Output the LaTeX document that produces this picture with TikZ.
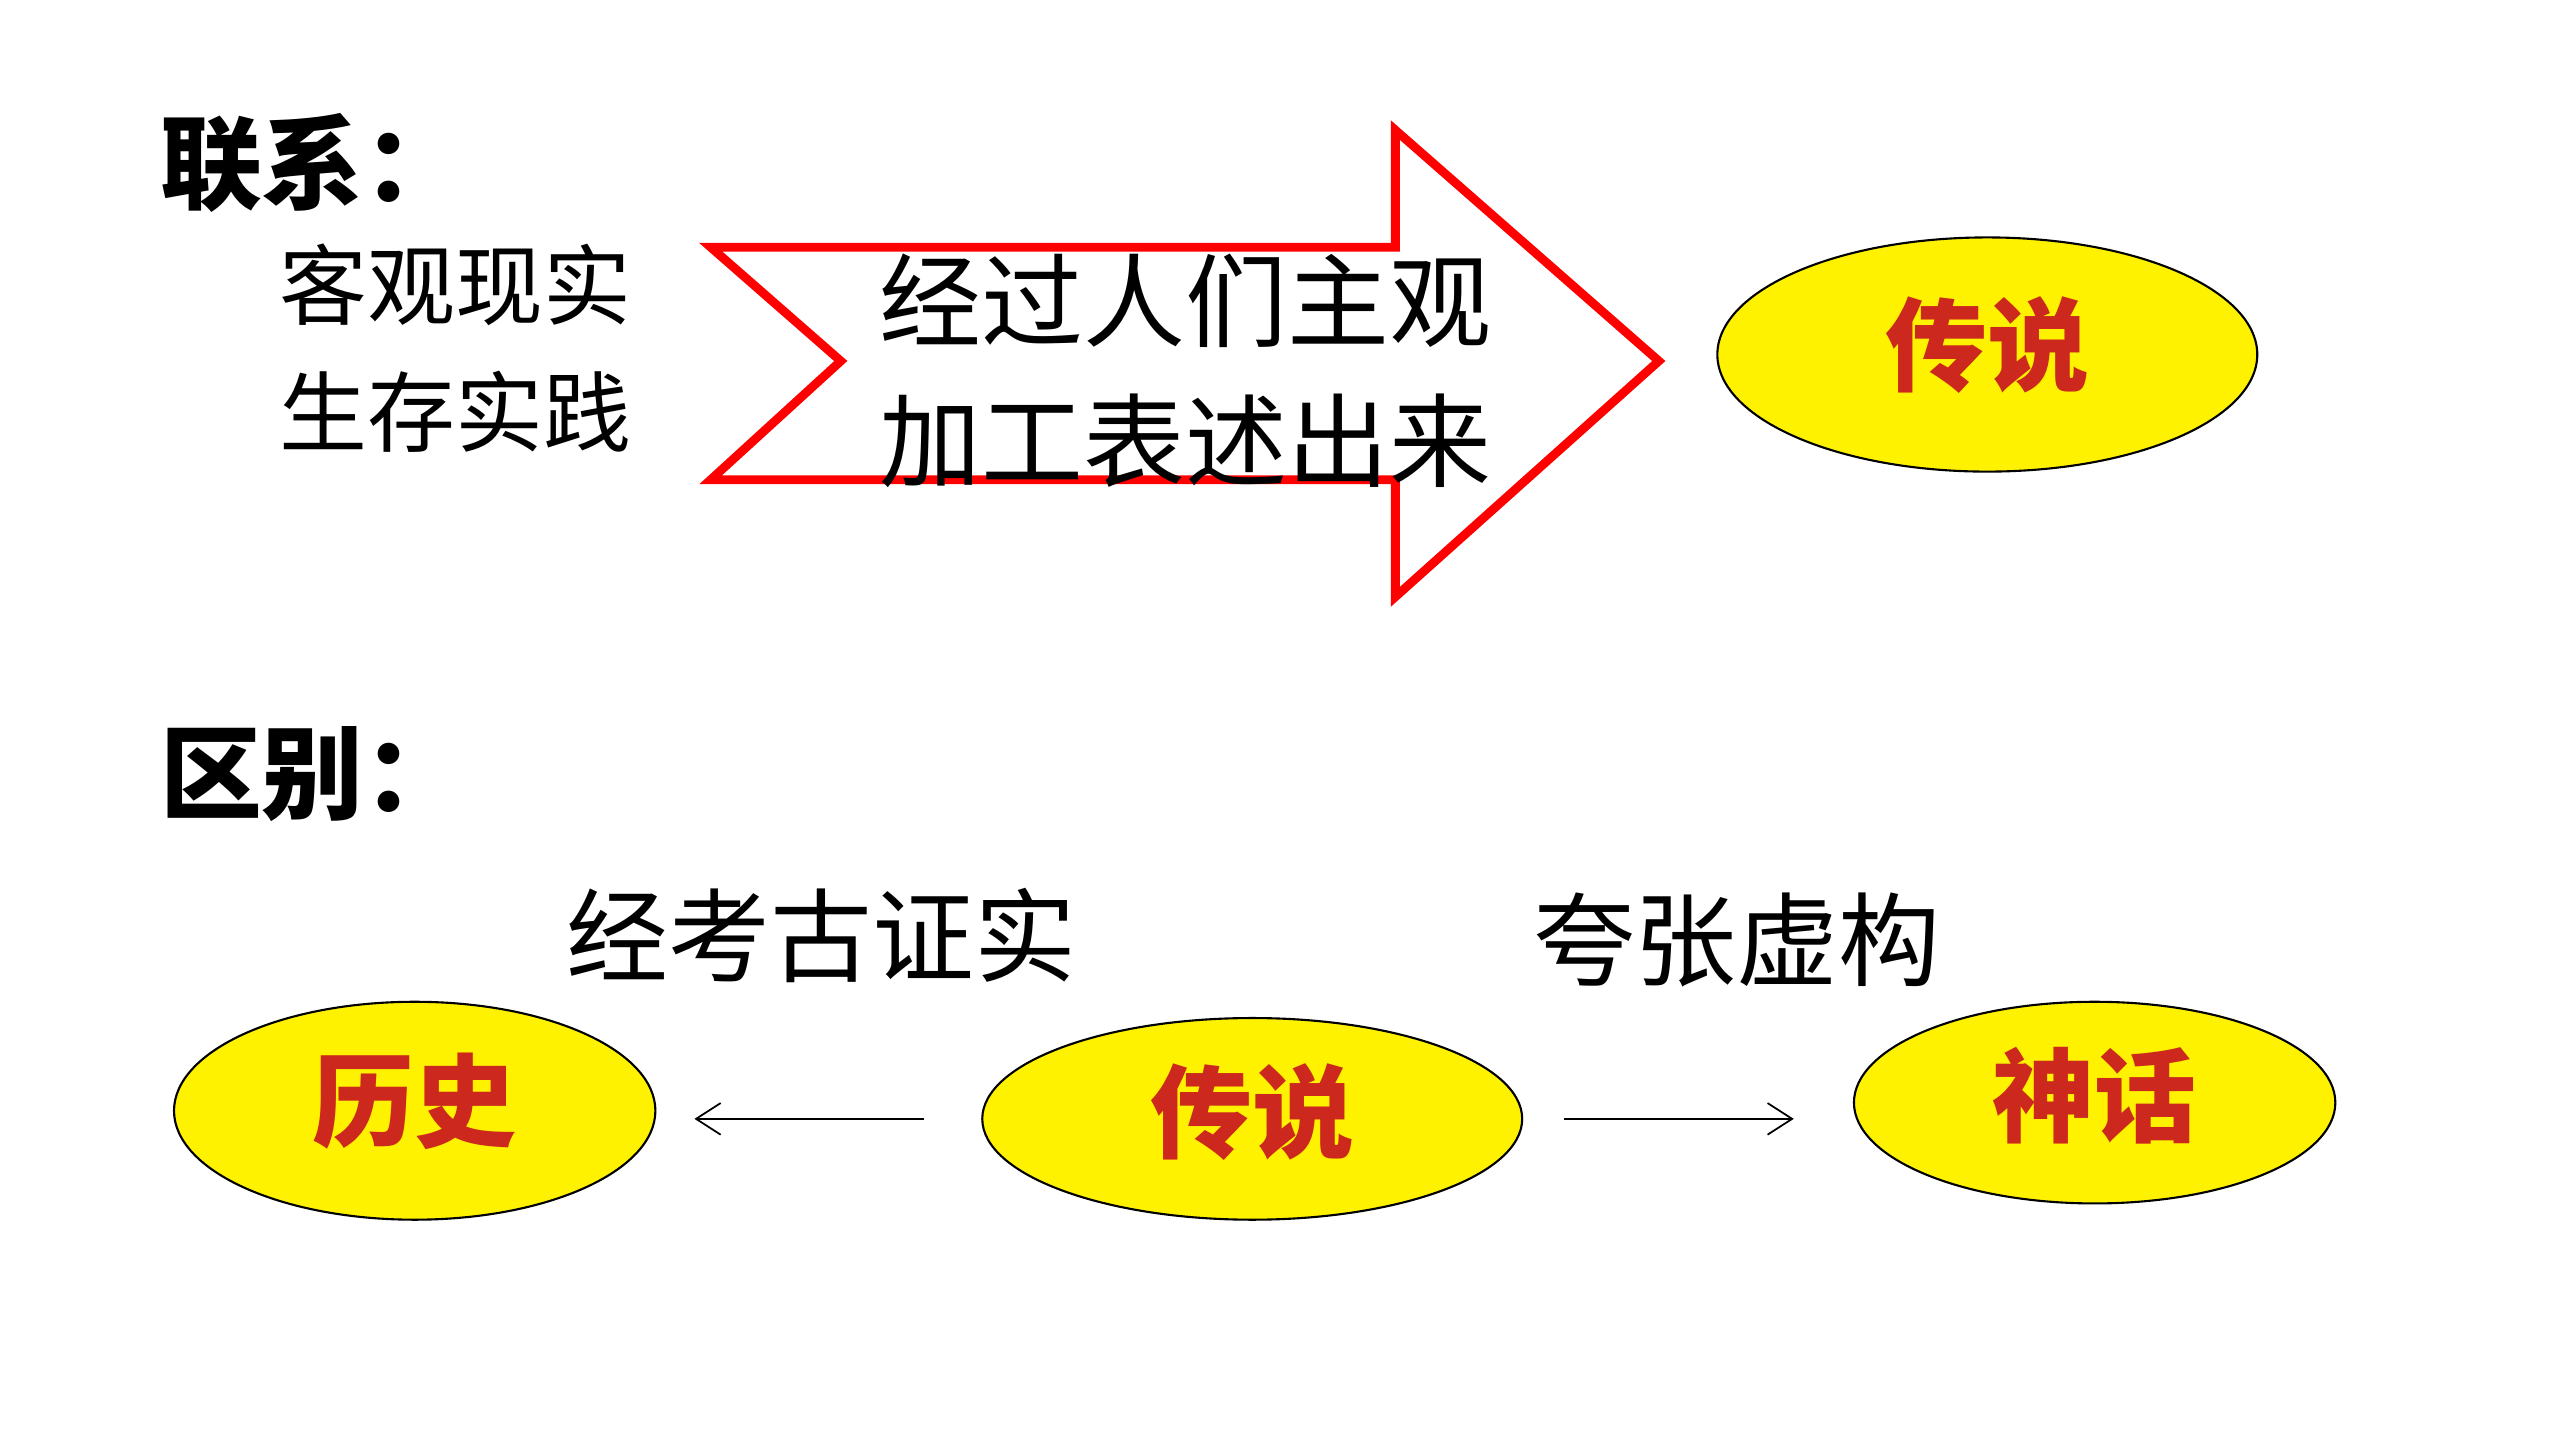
\documentclass[tikz,border=0pt]{standalone}
\usepackage{fontspec}
\newfontfamily\cjk{Noto Sans CJK SC}
\newfontfamily\cjkb{Noto Sans CJK SC Black}
\usetikzlibrary{arrows.meta}
\definecolor{etred}{RGB}{205,40,30}
\begin{document}
\begin{tikzpicture}[x=0.01626cm,y=-0.01626cm,
  title/.style={font=\cjkb\fontsize{29}{30}\selectfont,anchor=west,inner sep=0},
  body/.style={font=\cjk\fontsize{25}{36}\selectfont,inner sep=0,align=left},
  big/.style={font=\cjk\fontsize{29}{40}\selectfont,inner sep=0,align=left},
  etxt/.style={font=\cjkb\fontsize{29}{30}\selectfont,text=etred},
  conn/.style={-{Straight Barb[length=7pt,width=9pt]},line width=0.5pt}]
\useasboundingbox (0,0) rectangle (1568,882);
\node[title] (t1) at (98,100) {联系：};
\node[body] (real) at (280,214) {客观现实\\生存实践};
\draw[red,line width=2.5pt,fill=white,line join=miter] (437,152) -- (858,152) -- (858,80) -- (1020,222) -- (858,367) -- (858,295) -- (437,295) -- (517,222) -- cycle;
\node[big] (proc) at (729,228) {经过人们主观\\加工表述出来};
\draw[fill=yellow,line width=0.6pt] (1222,218) ellipse [x radius=166,y radius=72];
\node[etxt] (cs1) at (1222,212) {传说};
\node[title] (t2) at (98,476) {区别：};
\node[big] (l1) at (505,575) {经考古证实};
\node[big] (l2) at (1068,578) {夸张虚构};
\draw[fill=yellow,line width=0.6pt] (255,683) ellipse [x radius=148,y radius=67];
\node[etxt] (ls) at (255,677) {历史};
\draw[fill=yellow,line width=0.6pt] (770,688) ellipse [x radius=166,y radius=62];
\node[etxt] (cs2) at (770,684) {传说};
\draw[fill=yellow,line width=0.6pt] (1288,678) ellipse [x radius=148,y radius=62];
\node[etxt] (sh) at (1288,674) {神话};
\coordinate (a1) at (568,688); \coordinate (a2) at (427,688);
\coordinate (b1) at (962,688); \coordinate (b2) at (1103,688);
\draw[conn] (a1) -- (a2);
\draw[conn] (b1) -- (b2);
\end{tikzpicture}
\end{document}
